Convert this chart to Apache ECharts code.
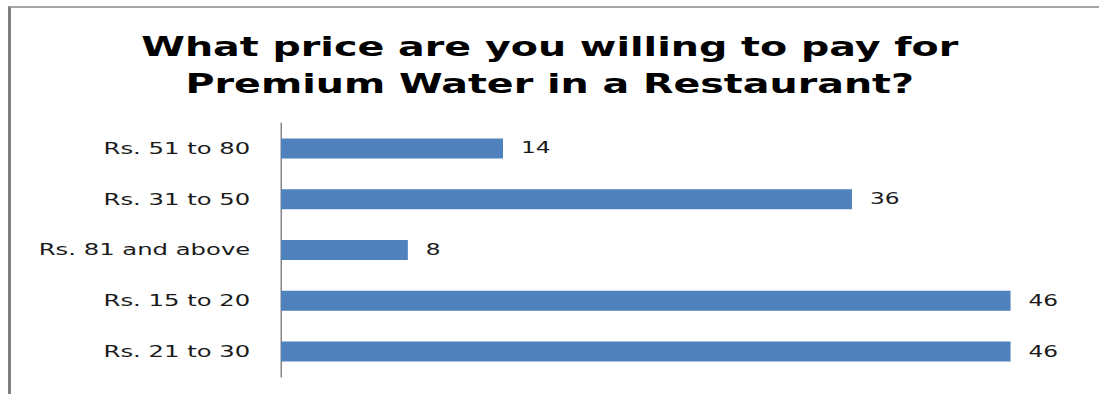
<!DOCTYPE html>
<html>
<head>
<meta charset="utf-8">
<script src="https://cdn.jsdelivr.net/npm/echarts@6/dist/echarts.min.js"></script>
<style>
  html, body { margin: 0; padding: 0; background: #ffffff; }
  #frame {
    position: absolute; left: 8px; top: 6px; width: 1091px; height: 388px;
    border-left: 3px solid #7f7f7f; border-top: 2px solid #a6a6a6;
    box-sizing: border-box;
  }
  /* the chart is laid out narrow and widened horizontally, giving the wide lettering */
  #chart {
    position: absolute; left: 0; top: 0; width: 732.67px; height: 394px;
    transform: scaleX(1.5); transform-origin: 0 0;
  }
</style>
</head>
<body>
<div id="frame"></div>
<div id="chart"></div>
<script>
// Survey answers: price ranges (top to bottom) and number of respondents
const titleLines = ['What price are you willing to pay for', 'Premium Water in a Restaurant?'];
const priceRanges = ['Rs. 51 to 80', 'Rs. 31 to 50', 'Rs. 81 and above', 'Rs. 15 to 20', 'Rs. 21 to 30'];
const respondents = [14, 36, 8, 46, 46];

const chart = echarts.init(document.getElementById('chart'), null, { renderer: 'svg' });

chart.setOption({
  animation: false,
  backgroundColor: 'transparent',
  title: {
    text: titleLines.join('\n'),
    left: 'center',
    top: 23,
    textStyle: {
      fontFamily: 'DejaVu Sans',
      fontWeight: 'bold',
      fontSize: 26.4,
      lineHeight: 37,
      color: '#000000'
    }
  },
  grid: { left: 187.3, right: 17, top: 123, bottom: 17, containLabel: false },
  xAxis: {
    type: 'value',
    min: 0,
    max: 50,
    show: false
  },
  yAxis: {
    type: 'category',
    data: priceRanges,
    inverse: true,
    axisLine: { show: true, lineStyle: { color: '#868686', width: 1 } },
    axisTick: { show: false },
    axisLabel: {
      margin: 20.5,
      fontFamily: 'DejaVu Sans',
      fontSize: 16.2,
      color: '#1a1a1a'
    },
    splitLine: { show: false }
  },
  series: [{
    type: 'bar',
    data: respondents,
    barWidth: 20,
    itemStyle: { color: '#4f81bd' },
    label: {
      show: true,
      position: 'right',
      distance: 12,
      fontFamily: 'DejaVu Sans',
      fontSize: 15.5,
      color: '#1a1a1a'
    }
  }]
});
</script>
</body>
</html>
